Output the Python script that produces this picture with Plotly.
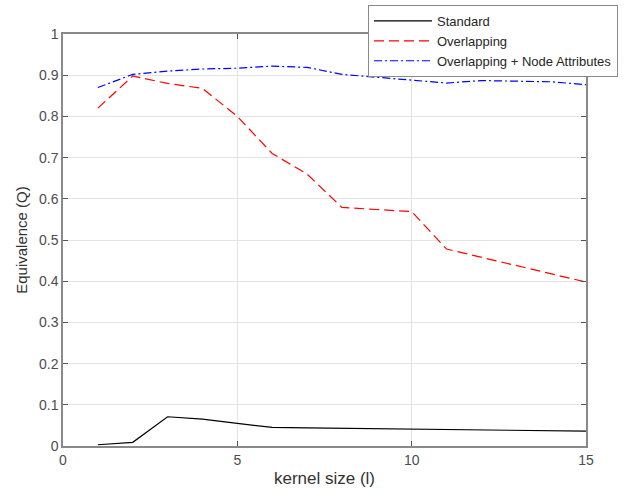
import plotly.graph_objects as go

kernel_size = list(range(1, 16))
standard = [0.003, 0.009, 0.071, 0.065, 0.055, 0.045, 0.044, 0.043, 0.042, 0.041, 0.040, 0.039, 0.038, 0.037, 0.036]
overlapping = [0.82, 0.898, 0.88, 0.868, 0.80, 0.71, 0.66, 0.579, 0.574, 0.569, 0.478, 0.458, 0.438, 0.418, 0.398]
overlap_attr = [0.87, 0.902, 0.91, 0.915, 0.917, 0.922, 0.919, 0.902, 0.895, 0.888, 0.881, 0.887, 0.886, 0.884, 0.877]

x_ticks = [0, 5, 10, 15]
y_ticks = [0, 0.1, 0.2, 0.3, 0.4, 0.5, 0.6, 0.7, 0.8, 0.9, 1]
y_tick_text = ["0", "0.1", "0.2", "0.3", "0.4", "0.5", "0.6", "0.7", "0.8", "0.9", "1"]

fig = go.Figure()
fig.add_trace(go.Scatter(x=kernel_size, y=standard, mode="lines", name="Standard",
                         line=dict(color="#000000", width=1.2)))
fig.add_trace(go.Scatter(x=kernel_size, y=overlapping, mode="lines", name="Overlapping",
                         line=dict(color="#ff0000", width=1.2, dash="10px,5px")))
fig.add_trace(go.Scatter(x=kernel_size, y=overlap_attr, mode="lines", name="Overlapping + Node Attributes",
                         line=dict(color="#0000ff", width=1.2, dash="8px,3px,2px,3px")))

font = "Liberation Sans, Arial, sans-serif"
axis_common = dict(showgrid=True, gridcolor="#e3e3e3", gridwidth=1,
                   showline=True, linecolor="#8a8a8a", linewidth=1.5, mirror="ticks",
                   ticks="inside", ticklen=5, tickcolor="#555555", tickwidth=1,
                   zeroline=False, tickfont=dict(family=font, size=14, color="#4d4d4d"))

fig.update_layout(
    width=626, height=496,
    margin=dict(l=63, r=40, t=34, b=50, autoexpand=False),
    paper_bgcolor="white", plot_bgcolor="white",
    showlegend=True,
    legend=dict(x=(368 - 63) / 523, y=(446 - 5) / 412, xanchor="left", yanchor="top",
                bgcolor="white", bordercolor="#8a8a8a", borderwidth=1,
                font=dict(family=font, size=13, color="#262626"),
                tracegroupgap=0, itemwidth=58),
    font=dict(family=font),
)
fig.update_xaxes(range=[0, 15], tickvals=x_ticks, ticktext=[str(v) for v in x_ticks],
                 title=dict(text="kernel size (l)", font=dict(family=font, size=17, color="#333333"), standoff=6),
                 **axis_common)
fig.update_yaxes(range=[0, 1], tickvals=y_ticks, ticktext=y_tick_text,
                 title=dict(text="Equivalence (Q)", font=dict(family=font, size=15, color="#333333"), standoff=8),
                 **axis_common)

fig.write_html("out.html")
